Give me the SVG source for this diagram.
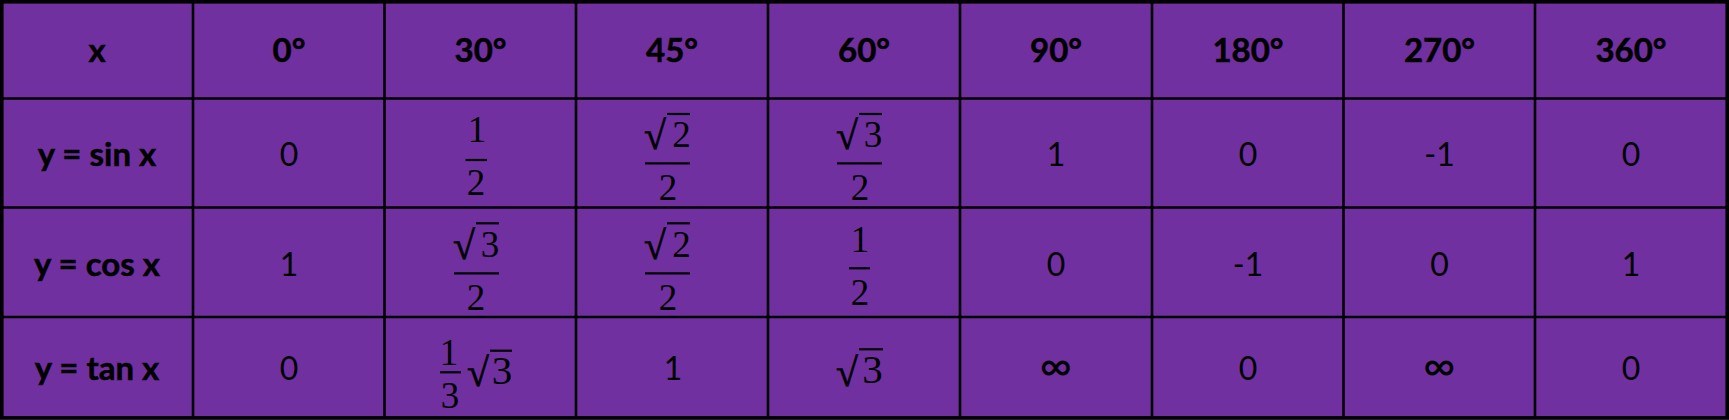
<svg xmlns="http://www.w3.org/2000/svg" width="1729" height="420" viewBox="0 0 1729 420">
<style>
.bg{fill:#7030A0}
.ln{stroke:#000;stroke-width:2.6;fill:none}
.out{stroke:#000;stroke-width:3.6;fill:none}
.hd{font-family:Lato,"Open Sans",sans-serif;font-weight:bold;font-size:33px;fill:#000;stroke:#000;stroke-width:0.5;text-anchor:middle}
.n{font-family:Lato,"Open Sans",sans-serif;font-size:32px;fill:#000;text-anchor:middle}
.inf{font-family:Lato,"Open Sans",sans-serif;font-size:44px;fill:#000;stroke:#000;stroke-width:0.3;text-anchor:middle}
.m{font-family:"Liberation Serif","DejaVu Serif",serif;font-size:37px;fill:#000;text-anchor:middle}
.r{font-family:"Liberation Serif","DejaVu Serif",serif;font-size:40px;fill:#000;stroke:#000;stroke-width:0.7;text-anchor:start}
.b{stroke:#000;stroke-width:2.2;fill:none}
</style>
<rect class="bg" x="0" y="0" width="1729" height="420"/>
<g id="grid">
<path class="ln" d="M193 0V418M384.5 0V418M576 0V418M768 0V418M960 0V418M1152 0V418M1343.5 0V418M1535 0V418M0 98.5H1729M0 207.5H1729M0 317H1729"/>
<rect class="out" x="1.8" y="1.8" width="1725.4" height="416"/>
</g>
<g id="header">
<text class="hd" x="97" y="62">x</text>
<text class="hd" x="289" y="62">0°</text>
<text class="hd" x="480.5" y="62">30°</text>
<text class="hd" x="672" y="62">45°</text>
<text class="hd" x="864" y="62">60°</text>
<text class="hd" x="1056" y="62">90°</text>
<text class="hd" x="1248" y="62">180°</text>
<text class="hd" x="1439.5" y="62">270°</text>
<text class="hd" x="1631" y="62">360°</text>
</g>
<g id="row-sin">
<text class="hd" x="97" y="166">y = sin x</text>
<text class="n" x="289" y="166">0</text>
<g id="sin30"><text class="m" x="477" y="142">1</text><line class="b" x1="465.5" y1="160" x2="487" y2="160"/><text class="m" x="476" y="195">2</text></g>
<g id="sin45"><text class="r" x="644" y="149">√</text><line class="b" x1="667" y1="114" x2="690" y2="114"/><text class="m" x="681.5" y="146.7">2</text><line class="b" x1="645" y1="163.3" x2="690" y2="163.3"/><text class="m" x="668" y="200">2</text></g>
<g id="sin60"><text class="r" x="836" y="149">√</text><line class="b" x1="859" y1="114" x2="882" y2="114"/><text class="m" x="873" y="146.7">3</text><line class="b" x1="837" y1="163.3" x2="882" y2="163.3"/><text class="m" x="860" y="200">2</text></g>
<text class="n" x="1056" y="166">1</text>
<text class="n" x="1248" y="166">0</text>
<text class="n" x="1439.5" y="166">-1</text>
<text class="n" x="1631" y="166">0</text>
</g>
<g id="row-cos">
<text class="hd" x="97" y="276">y = cos x</text>
<text class="n" x="289" y="276">1</text>
<g id="cos30"><text class="r" x="453" y="258.5">√</text><line class="b" x1="476" y1="223.3" x2="499" y2="223.3"/><text class="m" x="490" y="257.3">3</text><line class="b" x1="454" y1="273.3" x2="499" y2="273.3"/><text class="m" x="476" y="310">2</text></g>
<g id="cos45"><text class="r" x="644" y="258.5">√</text><line class="b" x1="667" y1="223.3" x2="690" y2="223.3"/><text class="m" x="681.5" y="257.3">2</text><line class="b" x1="645" y1="273.3" x2="690" y2="273.3"/><text class="m" x="668" y="310">2</text></g>
<g id="cos60"><text class="m" x="860" y="251.7">1</text><line class="b" x1="849" y1="268.3" x2="870" y2="268.3"/><text class="m" x="860" y="305">2</text></g>
<text class="n" x="1056" y="276">0</text>
<text class="n" x="1248" y="276">-1</text>
<text class="n" x="1439.5" y="276">0</text>
<text class="n" x="1631" y="276">1</text>
</g>
<g id="row-tan">
<text class="hd" x="97" y="380">y = tan x</text>
<text class="n" x="289" y="380">0</text>
<g id="tan30"><text class="m" x="449" y="365">1</text><line class="b" x1="440" y1="372.3" x2="461" y2="372.3"/><text class="m" x="450" y="408">3</text><text class="r" x="467" y="386">√</text><line class="b" x1="490" y1="350.7" x2="512" y2="350.7"/><text class="m" x="502" y="384" style="font-size:41px">3</text></g>
<text class="n" x="673" y="380">1</text>
<g id="tan60"><text class="r" x="836" y="386">√</text><line class="b" x1="859" y1="349.3" x2="883" y2="349.3"/><text class="m" x="872.5" y="383" style="font-size:41px">3</text></g>
<text class="inf" x="1056" y="381">∞</text>
<text class="n" x="1248" y="380">0</text>
<text class="inf" x="1439.5" y="381">∞</text>
<text class="n" x="1631" y="380">0</text>
</g>
</svg>
